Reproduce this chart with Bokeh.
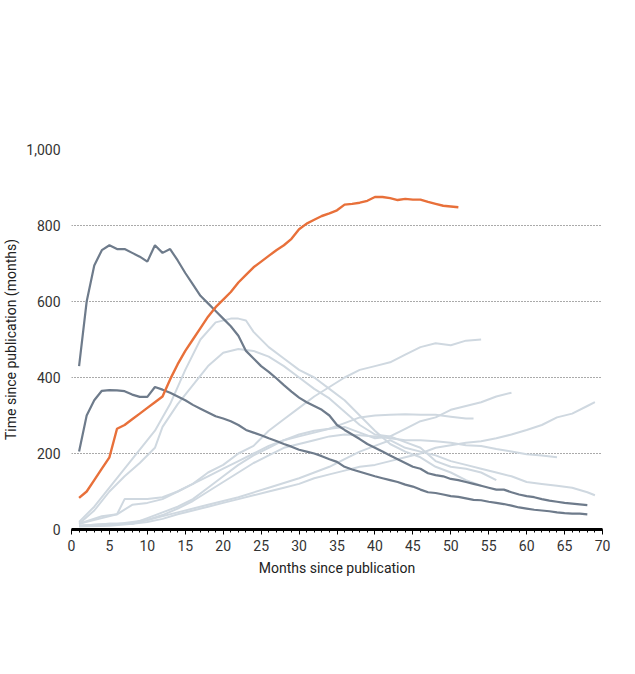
from bokeh.plotting import figure
from bokeh.models import Label, FixedTicker, NumeralTickFormatter
from bokeh.embed import file_html
from bokeh.resources import INLINE

alpha_x = list(range(1, 52))
alpha_y = [83,100,130,160,190,265,275,290,305,320,335,350,395,435,470,500,530,560,585,605,
           625,650,670,690,705,720,735,748,765,790,805,815,825,832,840,855,857,860,865,875,
           875,872,867,870,868,868,862,857,852,850,848]
covid1_x = list(range(1, 69))
covid1_y = [430,600,695,735,748,738,738,728,718,705,748,728,738,708,675,645,615,595,575,555,
            535,510,470,450,430,415,398,380,363,347,335,325,315,300,275,262,250,238,225,215,
            205,195,185,175,165,160,148,143,140,133,130,125,120,115,110,105,105,98,92,88,
            85,80,76,73,70,68,66,64]
covid2_x = list(range(1, 69))
covid2_y = [205,300,340,365,367,366,364,355,349,349,375,368,360,350,340,328,318,308,298,292,
            285,275,262,255,248,240,233,225,218,210,205,200,193,185,178,165,158,152,146,140,
            135,130,125,118,113,105,98,96,92,88,86,82,78,77,73,70,67,63,58,55,
            52,50,48,45,43,42,42,40]
other = [
 ([1,3,5,7,9,11,13,15,17,19,21,22,23,24,26,28,30,32,34,36,38,40,42,44,46,48,50,52,54],
  [20,60,110,160,210,260,330,420,500,545,555,555,550,520,480,450,420,400,370,340,300,260,225,205,190,165,150,130,115]),
 ([1,3,5,7,9,11,12,14,16,18,20,22,24,26,28,30,32,34,36,38,40,42,44,46,48,50,52,54,56],
  [15,50,100,140,175,215,270,330,380,430,465,475,470,455,430,400,370,345,310,275,250,245,230,215,180,165,160,150,130]),
 ([1,4,6,7,10,12,14,16,18,20,22,24,26,28,30,32,34,36,38,40,42,44,46,48,50,52,54],
  [15,30,40,80,80,85,100,120,150,170,200,220,260,290,320,350,375,400,420,430,440,460,480,490,485,497,500]),
 ([1,4,6,8,10,12,14,16,18,20,22,24,26,28,30,32,34,36,38,40,42,44,46,48,50,52,54,56,58],
  [15,35,40,65,70,80,100,120,140,160,180,200,220,235,250,260,265,270,255,240,245,265,285,295,315,325,335,350,360]),
 ([1,5,8,10,12,14,16,18,20,22,24,26,28,30,32,34,36,38,40,42,44,46,48,50,52,53],
  [10,15,15,30,45,60,80,110,140,170,195,215,235,245,255,265,280,295,300,302,303,302,302,297,292,292]),
 ([1,5,8,10,12,14,16,18,20,22,24,26,28,30,32,34,36,38,40,42,44,46,48,50,52,54,56,58,60,62,64,66,68,69],
  [8,10,15,20,28,40,50,60,70,80,90,100,110,120,135,145,155,165,170,180,190,200,215,222,228,232,240,250,262,275,295,305,325,335]),
 ([1,5,8,10,12,14,16,18,20,22,24,26,28,30,32,34,36,38,40,42,44,46,48,50,52,54,56,58,60,62,64],
  [10,15,15,25,38,55,75,100,125,150,175,195,215,225,235,245,250,248,245,240,235,235,232,228,222,220,212,205,198,195,190]),
 ([1,5,10,14,18,22,26,30,34,36,38,40,42,44,46,48,50,52,54,56,58,60,62,64,66,68,69],
  [10,12,25,45,65,85,110,135,165,185,205,220,235,215,205,195,180,170,160,150,140,125,120,115,110,98,90]),
]
x_ticks = list(range(0, 71, 5))
y_ticks = [0, 200, 400, 600, 800, 1000]

ORANGE = "#E8703A"; DARK = "#6E7B8B"; LIGHT = "#CFD8E0"; TXT = "#222222"
W, H = 619, 658
FONT = "Roboto"
BL, BB = 54, 129

p = figure(width=W, height=H, x_range=(0, 70), y_range=(0, 1000), output_backend="svg",
           toolbar_location=None, min_border_left=BL, min_border_right=17,
           min_border_top=149, min_border_bottom=BB)
p.outline_line_color = None
p.xgrid.grid_line_color = None
p.ygrid.grid_line_color = "#555555"
p.ygrid.grid_line_dash = "1 2"
p.ygrid.ticker = FixedTicker(ticks=y_ticks[1:])

for xs, ys in other:
    p.line(xs, ys, color=LIGHT, line_width=2)
p.line(covid2_x, covid2_y, color=DARK, line_width=2.2)
p.line(covid1_x, covid1_y, color=DARK, line_width=2.2)
p.line(alpha_x, alpha_y, color=ORANGE, line_width=2.4)

xa = p.xaxis[0]
xa.ticker = FixedTicker(ticks=x_ticks, minor_ticks=list(range(0, 71)))
xa.axis_line_color = "black"; xa.axis_line_width = 3
xa.major_tick_line_color = "black"; xa.major_tick_out = 5; xa.major_tick_in = 0
xa.minor_tick_line_color = "black"; xa.minor_tick_out = 3; xa.minor_tick_in = 0
xa.major_label_text_font = FONT; xa.major_label_text_font_size = "14px"
xa.major_label_text_color = "#333333"
xa.axis_label = "Months since publication"
xa.axis_label_text_font = FONT; xa.axis_label_text_font_size = "14px"
xa.axis_label_text_font_style = "normal"; xa.axis_label_text_color = TXT
xa.axis_label_standoff = 6

ya = p.yaxis[0]
ya.ticker = FixedTicker(ticks=y_ticks)
ya.formatter = NumeralTickFormatter(format="0,0")
ya.axis_line_color = None; ya.major_tick_line_color = None; ya.minor_tick_line_color = None
ya.major_label_text_font = FONT; ya.major_label_text_font_size = "14px"
ya.major_label_text_color = "#333333"
ya.axis_label = "Time since publication (months)"
ya.axis_label_text_font = FONT; ya.axis_label_text_font_size = "14px"
ya.axis_label_text_font_style = "normal"; ya.axis_label_text_color = TXT
ya.axis_label_standoff = 4


def txt(x, ypage, s, size=14, style="normal", align="left", color=TXT, font=FONT):
    p.add_layout(Label(x=x - BL, y=H - (ypage - 8) - BB, x_units="screen", y_units="screen",
                       text=s, text_font=font, text_font_size=f"{size}px",
                       text_font_style=style, text_align=align, text_baseline="middle",
                       text_color=color))


def dash(x0, ypage, color):
    txt(x0, ypage, "—", style="bold", color=color)


txt(0, 19, "PEAK CITATIONS", size=21, style="bold", color="#111111")
txt(0, 42, "The 2021 ")
txt(58, 42, "Nature", style="italic")
txt(102, 42, " paper describing AlphaFold2 has been cited nearly 40,000 times by")
txt(0, 62, "other studies. Unlike some other highly cited biomedical studies from 2020–21,")
txt(0, 81, "including key COVID-19 papers, citations of the AlphaFold2 paper aren’t dropping off.")

dash(0, 107, ORANGE)
txt(20, 107, "AlphaFold2")
txt(88, 102, "1", size=9)
dash(100, 107, DARK)
txt(120, 107, "Early COVID-19 outbreaks")
txt(278, 102, "2,3", size=9)
dash(0, 126, "#B8C3CD")
txt(20, 126, "Other highly cited life-sciences papers published in 2020 and 2021")

notes = [(603, "1. Jumper, J. ", "596", ", 583–589 (2021)."),
         (620, "2. Zhou, P. ", "579", ", 270–273 (2020)."),
         (637, "3. Wu, F. ", "579", ", 265–269 (2020).")]
for yp, a, b, c in notes:
    r = 615
    txt(r, yp, c, size=11, align="right")
    r -= 88
    txt(r, yp, b, size=11, style="bold", align="right")
    r -= 20
    txt(r, yp, "et al. Nature ", size=11, style="italic", align="right")
    r -= 66
    txt(r, yp, a, size=11, align="right")
txt(-4, 637, "©nature", size=12, color="#555555")

open("out.html", "w").write(file_html(p, INLINE))
